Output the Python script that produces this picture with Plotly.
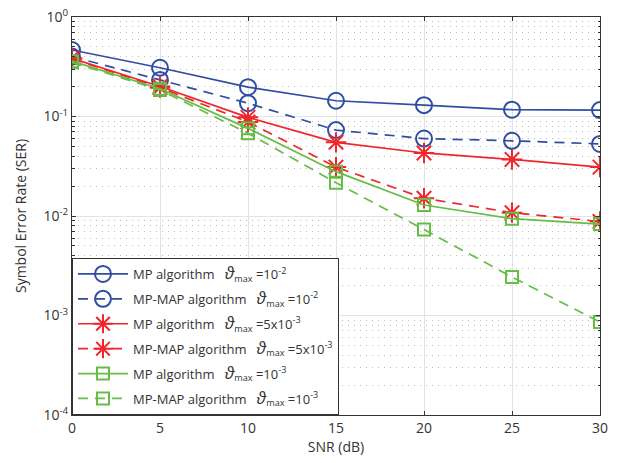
import plotly.graph_objects as go

snr = [0, 5, 10, 15, 20, 25, 30]

mp_1e2 = [0.466, 0.309, 0.197, 0.144, 0.130, 0.117, 0.116]
mpmap_1e2 = [0.40, 0.233, 0.136, 0.073, 0.060, 0.057, 0.053]
mp_5e3 = [0.385, 0.200, 0.098, 0.055, 0.043, 0.037, 0.031]
mpmap_5e3 = [0.380, 0.195, 0.088, 0.031, 0.0151, 0.0108, 0.0088]
mp_1e3 = [0.360, 0.190, 0.076, 0.0279, 0.0129, 0.0094, 0.0083]
mpmap_1e3 = [0.350, 0.185, 0.068, 0.0216, 0.0073, 0.00244, 0.00086]

theta = "<span style='font-size:17px'><i>ϑ</i></span>"
names = [
    f"MP algorithm   {theta}<sub>max</sub> =10<sup>-2</sup>",
    f"MP-MAP algorithm   {theta}<sub>max</sub> =10<sup>-2</sup>",
    f"MP algorithm   {theta}<sub>max</sub> =5x10<sup>-3</sup>",
    f"MP-MAP algorithm   {theta}<sub>max</sub> =5x10<sup>-3</sup>",
    f"MP algorithm   {theta}<sub>max</sub> =10<sup>-3</sup>",
    f"MP-MAP algorithm   {theta}<sub>max</sub> =10<sup>-3</sup>",
]

blue = "#2F4DA3"
red = "#F0262B"
green = "#66BD45"

series = [
    (mp_1e2, blue, "solid", "circle-open", 16),
    (mpmap_1e2, blue, "dash", "circle-open", 16),
    (mp_5e3, red, "solid", "asterisk-open", 17),
    (mpmap_5e3, red, "dash", "asterisk-open", 17),
    (mp_1e3, green, "solid", "square-open", 12),
    (mpmap_1e3, green, "dash", "square-open", 12),
]

fig = go.Figure()
for i, ((vals, col, dash, sym, sz), nm) in enumerate(zip(series, names)):
    fig.add_trace(go.Scatter(
        x=snr, y=vals, name=nm, mode="lines+markers", legendgroup=f"g{i}",
        line=dict(color=col, width=1.7, dash="solid" if dash == "solid" else "10px,7px"),
        marker=dict(symbol=sym, size=sz, color=col, line=dict(color=col, width=2)),
    ))

font_family = "Open Sans, Lato, sans-serif"
txt = "#333333"
fig.update_layout(
    width=618, height=463,
    margin=dict(l=72, r=18, t=17, b=48),
    paper_bgcolor="white", plot_bgcolor="white",
    font=dict(family=font_family, size=13, color=txt),
    showlegend=True,
    legend=dict(
        x=0, y=0, xanchor="left", yanchor="bottom",
        bgcolor="white", bordercolor="#333333", borderwidth=1,
        font=dict(size=13, color=txt), itemwidth=50,
        tracegroupgap=5,
    ),
    xaxis=dict(
        range=[0, 30], tickvals=snr, ticks="inside", ticklen=4,
        tickcolor="#333333", showline=True, linecolor="#333333", linewidth=1,
        mirror="ticks", showgrid=True, gridcolor="#E3E3E3", gridwidth=1,
        zeroline=False, automargin=False,
        title=dict(text="SNR (dB)", font=dict(size=14, color=txt), standoff=4),
        tickfont=dict(size=14, color=txt),
    ),
    yaxis=dict(
        type="log", range=[-4, 0], automargin=False,
        tickvals=[1e-4, 1e-3, 1e-2, 1e-1, 1],
        ticktext=["10<sup>-4</sup>", "10<sup>-3</sup>", "10<sup>-2</sup>", "10<sup>-1</sup>", "10<sup>0</sup>"],
        ticks="inside", ticklen=4, tickcolor="#333333",
        showline=True, linecolor="#333333", linewidth=1, mirror="ticks",
        showgrid=True, gridcolor="#E3E3E3", gridwidth=1, zeroline=False,
        minor=dict(dtick="D1", showgrid=True, gridcolor="#BDBDBD", griddash="1px,5px",
                   ticks="inside", ticklen=2.5, tickcolor="#333333"),
        title=dict(text="Symbol Error Rate (SER)", font=dict(size=14, color=txt), standoff=13),
        tickfont=dict(size=14, color=txt),
    ),
)

fig.write_html(
    "out.html",
    config={"displayModeBar": False},
    post_script="document.body.style.margin='0';document.body.style.overflow='hidden';",
)
